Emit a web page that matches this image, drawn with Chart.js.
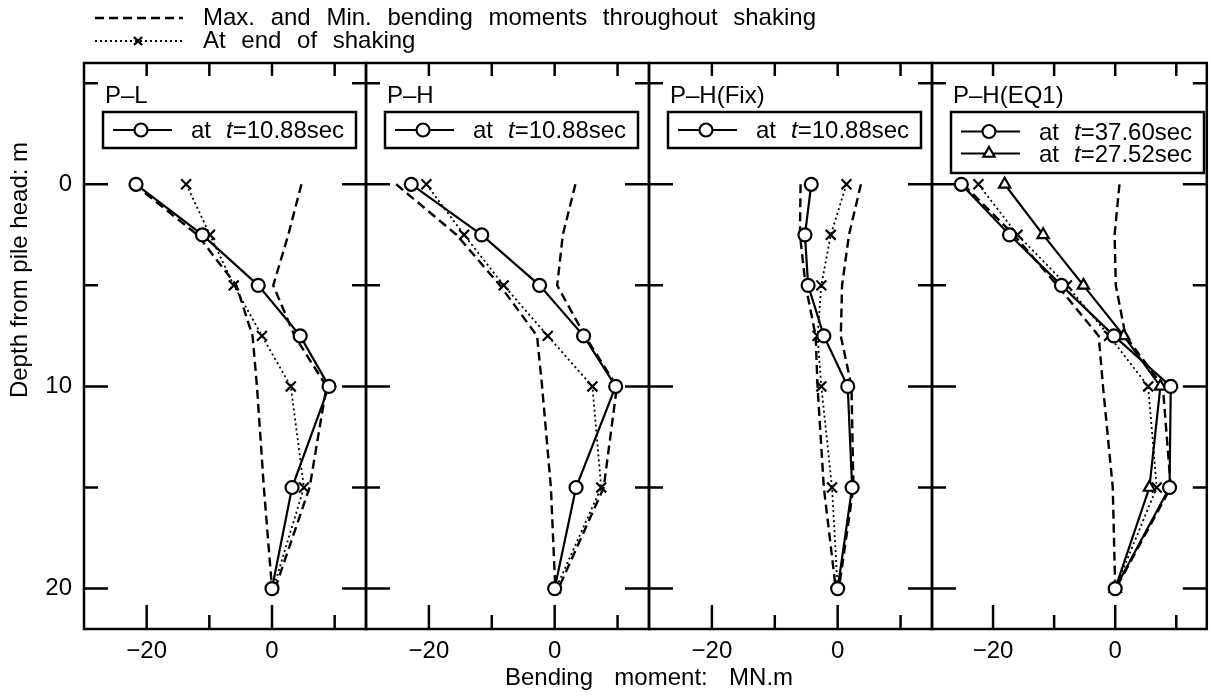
<!DOCTYPE html>
<html>
<head>
<meta charset="utf-8">
<script src="https://cdn.jsdelivr.net/npm/chart.js@4.4.1/dist/chart.umd.min.js"></script>
<style>
html, body { margin: 0; padding: 0; background: #fff; overflow: hidden; }
#wrap { position: relative; width: 1216px; height: 698px; }
#wrap canvas { position: absolute; left: 0; top: 0; }
.txt { position: absolute; font-family: 'Liberation Sans', Arial, sans-serif; font-size: 24px; line-height: 24px; color: #000; white-space: pre; }
</style>
</head>
<body>
<div id="wrap">
  <canvas id="c0" width="1216" height="698"></canvas>
  <canvas id="c1" width="1216" height="698"></canvas>
  <canvas id="c2" width="1216" height="698"></canvas>
  <canvas id="c3" width="1216" height="698"></canvas>
  <svg style="position:absolute;left:0;top:0" width="300" height="60">
    <line x1="95" y1="18" x2="183" y2="18" stroke="#000" stroke-width="2.4" stroke-dasharray="9,5"/>
    <line x1="95" y1="41" x2="183" y2="41" stroke="#000" stroke-width="1.8" stroke-dasharray="2,3"/>
    <path d="M134 37 L142 45 M142 37 L134 45" stroke="#000" stroke-width="2.4"/>
  </svg>
  <div class="txt" style="left:203px;top:5px;word-spacing:9px">Max. and Min. bending moments throughout shaking</div>
  <div class="txt" style="left:203px;top:28px;word-spacing:9px">At end of shaking</div>
  <div class="txt" style="left:449px;top:665px;width:400px;text-align:center;word-spacing:4px">Bending  moment:  MN.m</div>
  <div class="txt" style="left:-131px;top:258px;width:300px;text-align:center;transform:rotate(-90deg)">Depth from pile head: m</div>
</div>
<script>
// depth of gauges (m)
var depths = [0, 2.5, 5, 7.5, 10, 15, 20];

// P-L
var plSnap = [-21.7, -11.1, -2.2, 4.5, 9.1, 3.2, 0];
var plEnd  = [-13.7, -9.9, -6.1, -1.6, 3.0, 5.1, 0.2];
var plMax  = [4.7, 2.6, 0.2, 3.6, 8.7, 6.0, 0.5];
var plMin  = [-22.0, -11.9, -5.7, -3.1, -2.4, -1.3, 0];

// P-H
var phSnap = [-22.8, -11.6, -2.4, 4.6, 9.7, 3.4, 0];
var phEnd  = [-20.4, -14.4, -8.1, -1.1, 6.0, 7.4, 0.2];
var phMax  = [3.3, 1.3, 0.4, 4.8, 9.9, 7.8, 0.6];
var phMin  = [-25.2, -15.6, -8.7, -2.8, -2.0, -0.6, 0.1];

// P-H(Fix)
var fixSnap = [-4.2, -5.2, -4.7, -2.2, 1.6, 2.3, 0];
var fixEnd  = [1.4, -1.1, -2.6, -3.2, -2.6, -0.9, 0];
var fixMax  = [3.7, 1.8, 0.7, 0.5, 2.2, 2.5, 0.2];
var fixMin  = [-5.9, -6.0, -5.1, -3.5, -3.2, -2.2, -0.3];

// P-H(EQ1)
var eqSnapA = [-25.2, -17.3, -8.8, -0.2, 9.1, 8.9, 0];   // t=37.60sec
var eqSnapB = [-18.1, -11.8, -5.2, 1.4, 7.4, 5.6, 0];    // t=27.52sec
var eqEnd   = [-22.4, -16.0, -7.9, -1.0, 5.4, 6.8, 0];
var eqMax   = [0.7, -0.1, 0.1, 1.7, 7.8, 9.1, 0.1];
var eqMin   = [-24.9, -16.6, -9.5, -2.7, -2.0, -0.4, 0];

// ticks
var xTickVals = [-20, -10, 0, 10];
var xLabelVals = [-20, 0];
var yTickVals = [-5, 0, 5, 10, 15, 20];
var yLabelVals = [0, 10, 20];

var FONT = "'Liberation Sans', Arial, sans-serif";
Chart.defaults.font.family = FONT;
Chart.defaults.font.size = 24;
Chart.defaults.color = '#000';

function pts(vals) {
    return vals.map(function(v, i) { return {x: v, y: depths[i]}; });
}

function snapSet(vals, style) {
    return {data: pts(vals), showLine: true, borderColor: '#000', borderWidth: 2.2,
        pointStyle: style, pointRadius: 6.5,
        pointBackgroundColor: '#fff', pointBorderColor: '#000', pointBorderWidth: 2.2};
}
function endSet(vals) {
    return {data: pts(vals), showLine: true, borderColor: '#000', borderWidth: 1.8,
        borderDash: [2, 3], pointStyle: 'crossRot', pointRadius: 7,
        pointBorderColor: '#000', pointBorderWidth: 2.2, pointBackgroundColor: '#000'};
}
function envSet(vals) {
    return {data: pts(vals), showLine: true, borderColor: '#000', borderWidth: 2.4,
        borderDash: [9, 5], pointRadius: 0};
}

// frame, inward ticks and in-panel legend
var panelFrame = {
    id: 'panelFrame',
    afterDraw: function(chart, args, opts) {
        var ctx = chart.ctx, a = chart.chartArea;
        var xs = chart.scales.x, ys = chart.scales.y;
        ctx.save();
        ctx.strokeStyle = '#000';
        ctx.lineWidth = 2.5;
        ctx.strokeRect(a.left, a.top, a.right - a.left, a.bottom - a.top);
        ctx.beginPath();
        yTickVals.forEach(function(v) {
            var py = ys.getPixelForValue(v);
            var len = yLabelVals.indexOf(v) >= 0 ? 24 : 14;
            ctx.moveTo(a.left, py); ctx.lineTo(a.left + len, py);
            ctx.moveTo(a.right, py); ctx.lineTo(a.right - len, py);
        });
        xTickVals.forEach(function(v) {
            var px = xs.getPixelForValue(v);
            var len = xLabelVals.indexOf(v) >= 0 ? 24 : 14;
            ctx.moveTo(px, a.bottom); ctx.lineTo(px, a.bottom - len);
            ctx.moveTo(px, a.top); ctx.lineTo(px, a.top + 13);
        });
        ctx.stroke();

        // panel name
        ctx.fillStyle = '#000';
        ctx.textBaseline = 'alphabetic';
        ctx.font = '24px ' + FONT;
        ctx.fillText(opts.title, a.left + 21, a.top + 40);

        // legend box
        var n = opts.rows.length;
        var bx = a.left + 19, by = a.top + 49, bw = 253, bh = 11 + 25 * n;
        ctx.lineWidth = 2.5;
        ctx.fillStyle = '#fff';
        ctx.fillRect(bx, by, bw, bh);
        ctx.strokeRect(bx, by, bw, bh);
        opts.rows.forEach(function(r, i) {
            var cy = by + bh / 2 + (i - (n - 1) / 2) * 22;
            ctx.lineWidth = 2.2;
            ctx.beginPath();
            ctx.moveTo(bx + 10, cy); ctx.lineTo(bx + 69, cy);
            ctx.stroke();
            ctx.beginPath();
            var mx = bx + 38, rad = 6.5;
            if (r.style == 'triangle') {
                ctx.moveTo(mx, cy - rad);
                ctx.lineTo(mx + rad * 0.866, cy + rad * 0.5);
                ctx.lineTo(mx - rad * 0.866, cy + rad * 0.5);
                ctx.closePath();
            } else {
                ctx.arc(mx, cy, rad, 0, Math.PI * 2);
            }
            ctx.fillStyle = '#fff';
            ctx.fill();
            ctx.stroke();
            ctx.fillStyle = '#000';
            ctx.font = '24px ' + FONT;
            ctx.fillText('at', bx + 88, cy + 8);
            ctx.font = 'italic 24px ' + FONT;
            ctx.fillText('t', bx + 123, cy + 8);
            var tw = ctx.measureText('t').width;
            ctx.font = '24px ' + FONT;
            ctx.fillText('=' + r.time + 'sec', bx + 123 + tw, cy + 8);
        });
        ctx.restore();
    }
};

function fmt(v) {
    return v < 0 ? '\u2212' + Math.abs(v) : String(v);
}

function makePanel(id, left, right, first, datasets, legendOpts) {
    var W = 1216;
    return new Chart(document.getElementById(id), {
        type: 'scatter',
        data: {datasets: datasets},
        options: {
            responsive: false,
            animation: false,
            events: [],
            layout: {padding: {left: first ? 0 : left, right: W - right, top: 63, bottom: 0}},
            plugins: {
                legend: {display: false},
                tooltip: {enabled: false},
                panelFrame: legendOpts
            },
            scales: {
                x: {
                    type: 'linear', min: -30, max: 15,
                    grid: {display: false, drawTicks: false},
                    border: {display: false},
                    ticks: {
                        stepSize: 10, autoSkip: false, maxRotation: 0, padding: 8,
                        callback: function(v) { return xLabelVals.indexOf(v) >= 0 ? fmt(v) : ''; }
                    },
                    afterFit: function(s) { s.height = 69; }
                },
                y: {
                    type: 'linear', reverse: true, min: -6, max: 22,
                    grid: {display: false, drawTicks: false},
                    border: {display: false},
                    ticks: {
                        display: first, stepSize: 5, autoSkip: false, padding: 12,
                        callback: function(v) { return yLabelVals.indexOf(v) >= 0 ? String(v) : ''; }
                    },
                    afterFit: function(s) { s.width = first ? left : 0; }
                }
            }
        },
        plugins: [panelFrame]
    });
}

makePanel('c0', 84, 366, true,
    [snapSet(plSnap, 'circle'), endSet(plEnd), envSet(plMax), envSet(plMin)],
    {title: 'P\u2013L', rows: [{style: 'circle', time: '10.88'}]});
makePanel('c1', 366, 649, false,
    [snapSet(phSnap, 'circle'), endSet(phEnd), envSet(phMax), envSet(phMin)],
    {title: 'P\u2013H', rows: [{style: 'circle', time: '10.88'}]});
makePanel('c2', 649, 932, false,
    [snapSet(fixSnap, 'circle'), endSet(fixEnd), envSet(fixMax), envSet(fixMin)],
    {title: 'P\u2013H(Fix)', rows: [{style: 'circle', time: '10.88'}]});
makePanel('c3', 932, 1214, false,
    [snapSet(eqSnapA, 'circle'), snapSet(eqSnapB, 'triangle'), endSet(eqEnd), envSet(eqMax), envSet(eqMin)],
    {title: 'P\u2013H(EQ1)', rows: [{style: 'circle', time: '37.60'}, {style: 'triangle', time: '27.52'}]});
</script>
</body>
</html>
